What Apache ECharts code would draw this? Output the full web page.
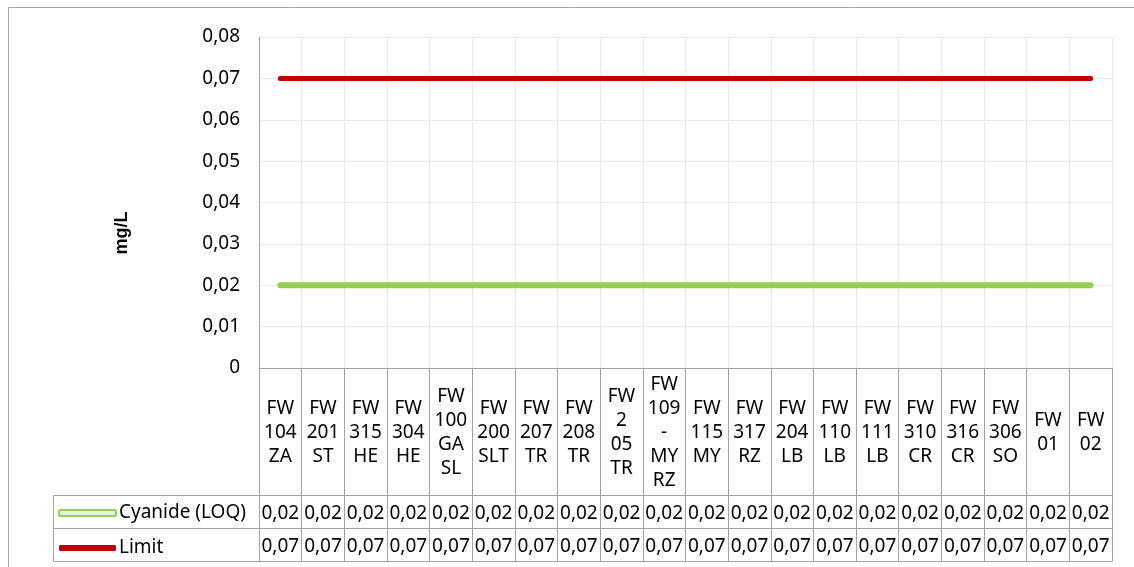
<!DOCTYPE html>
<html>
<head>
<meta charset="utf-8">
<script src="https://cdn.jsdelivr.net/npm/echarts@6/dist/echarts.min.js"></script>
<style>
  html, body { margin: 0; padding: 0; background: #fff; }
  #chart { width: 1134px; height: 567px; }
</style>
</head>
<body>
<div id="chart"></div>
<script>
// Sampling points (names wrap one word per line under the axis)
const categories = [
  'FW 104 ZA', 'FW 201 ST', 'FW 315 HE', 'FW 304 HE', 'FW 100 GA SL',
  'FW 200 SLT', 'FW 207 TR', 'FW 208 TR', 'FW 2 05 TR', 'FW 109 - MY RZ',
  'FW 115 MY', 'FW 317 RZ', 'FW 204 LB', 'FW 110 LB', 'FW 111 LB',
  'FW 310 CR', 'FW 316 CR', 'FW 306 SO', 'FW 01', 'FW 02'
];
// Cyanide limit of quantification per point (mg/L)
const cyanideLOQ = [0.02, 0.02, 0.02, 0.02, 0.02, 0.02, 0.02, 0.02, 0.02, 0.02,
                    0.02, 0.02, 0.02, 0.02, 0.02, 0.02, 0.02, 0.02, 0.02, 0.02];
// Regulatory limit per point (mg/L)
const limit = [0.07, 0.07, 0.07, 0.07, 0.07, 0.07, 0.07, 0.07, 0.07, 0.07,
               0.07, 0.07, 0.07, 0.07, 0.07, 0.07, 0.07, 0.07, 0.07, 0.07];
const seriesNames = ['Cyanide (LOQ)', 'Limit'];
const yMin = 0, yMax = 0.08, yStep = 0.01;

const FONT = 'Noto Sans';
const FS = 19;
const GRID_LINE = '#e9e9e9';
const TABLE_LINE = '#a3a3a3';
const GREEN = '#92d050';
const RED = '#c00000';

const dec = v => v.toFixed(2).replace('.', ',');

const chart = echarts.init(document.getElementById('chart'), null, { renderer: 'canvas' });

// Each data-table row is its own category axis pushed below the plot
function tableRowAxis(offset, values) {
  return {
    type: 'category',
    gridIndex: 0,
    position: 'bottom',
    offset: offset,
    data: categories,
    boundaryGap: true,
    axisLine: { show: true, lineStyle: { color: TABLE_LINE, width: 1 } },
    axisTick: { show: !!values, interval: 0, length: 33, lineStyle: { color: TABLE_LINE } },
    axisLabel: {
      show: !!values,
      interval: 0,
      margin: 18.5,
      verticalAlign: 'middle',
      fontFamily: FONT,
      fontSize: FS,
      color: '#000',
      formatter: (v, i) => values ? dec(values[i]) : ''
    },
    splitLine: { show: false }
  };
}

chart.setOption({
  animation: false,
  backgroundColor: '#fff',
  grid: { left: 259, right: 22, top: 37, bottom: 199, containLabel: false },
  xAxis: [
    {
      type: 'category',
      position: 'bottom',
      data: categories,
      boundaryGap: true,
      axisLine: { show: true, lineStyle: { color: TABLE_LINE, width: 1 } },
      axisTick: { show: true, interval: 0, length: 127, lineStyle: { color: TABLE_LINE } },
      axisLabel: {
        interval: 0,
        margin: 65,
        verticalAlign: 'middle',
        align: 'center',
        fontFamily: FONT,
        fontSize: FS,
        lineHeight: 24,
        color: '#000',
        formatter: v => v.split(' ').join('\n')
      },
      splitLine: { show: true, interval: 0, lineStyle: { color: GRID_LINE, width: 1 } }
    },
    tableRowAxis(127, cyanideLOQ),
    tableRowAxis(160, limit),
    tableRowAxis(193, null)
  ],
  yAxis: {
    type: 'value',
    min: yMin,
    max: yMax,
    interval: yStep,
    axisLine: { show: true, lineStyle: { color: TABLE_LINE, width: 1 } },
    axisTick: { show: false },
    axisLabel: {
      margin: 19,
      fontFamily: FONT,
      fontSize: FS,
      color: '#000',
      formatter: v => (v === 0 ? '0' : dec(v))
    },
    splitLine: { show: true, lineStyle: { color: GRID_LINE, width: 1 } }
  },
  legend: {
    orient: 'vertical',
    left: 58,
    top: 502,
    padding: 0,
    itemGap: 13,
    itemWidth: 57,
    itemHeight: 6,
    icon: 'roundRect',
    textStyle: { fontFamily: FONT, fontSize: FS, color: '#000', lineHeight: 20, padding: [2, 0, 0, -2] },
    data: [
      { name: seriesNames[0], itemStyle: { color: '#e8f5d9', borderColor: GREEN, borderWidth: 2 } },
      { name: seriesNames[1], itemStyle: { color: RED, borderWidth: 0 } }
    ]
  },
  graphic: [
    // outer chart frame
    { type: 'rect', silent: true, shape: { x: 8.5, y: 7.5, width: 1200, height: 600 },
      style: { fill: 'none', stroke: '#a6a6a6', lineWidth: 1 } },
    // legend column of the data table
    { type: 'rect', silent: true, shape: { x: 53.5, y: 495.5, width: 206, height: 66 },
      style: { fill: 'none', stroke: TABLE_LINE, lineWidth: 1 } },
    { type: 'line', silent: true, shape: { x1: 53.5, y1: 528.5, x2: 259.5, y2: 528.5 },
      style: { stroke: TABLE_LINE, lineWidth: 1 } },
    // axis title
    { type: 'text', silent: true, x: 122, y: 233, rotation: Math.PI / 2,
      style: { text: 'mg/L', fontFamily: 'Liberation Sans', fontWeight: 'bold', fontSize: 18,
               fill: '#000', align: 'center', verticalAlign: 'middle' } }
  ],
  series: [
    {
      name: seriesNames[0],
      type: 'line',
      data: cyanideLOQ,
      symbol: 'none',
      lineStyle: { color: GREEN, width: 6, cap: 'round' },
      itemStyle: { color: GREEN },
      z: 3
    },
    {
      name: seriesNames[1],
      type: 'line',
      data: limit,
      symbol: 'none',
      lineStyle: { color: RED, width: 5, cap: 'round' },
      itemStyle: { color: RED },
      z: 3
    }
  ]
});
</script>
</body>
</html>
